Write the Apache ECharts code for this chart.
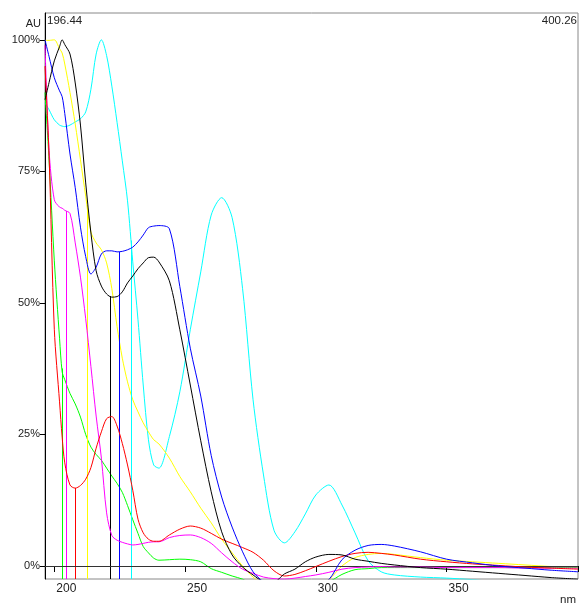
<!DOCTYPE html>
<html><head><meta charset="utf-8">
<script src="https://cdn.jsdelivr.net/npm/echarts@6/dist/echarts.min.js"></script>
<style>html,body{margin:0;padding:0;background:#fff}#c{width:579px;height:606px}</style>
</head><body><div id="c"></div>
<script>
// Wavelength grid (nm)
const wavelengths = [196.44,198,200,202,203,204,206,208,210,212,214,216,218,220,222,224,226,228,230,232,234,236,238,240,244,248,252,256,260,264,268,272,276,280,284,288,292,296,300,305,310,315,320,325,330,340,350,360,370,380,390,400.26];
// Normalised absorbance (%) per spectrum
const cyanSpec = [88.0,86.7,84.8,83.8,83.6,83.5,83.8,84.4,85.0,86.3,90.6,97.3,100,97.0,91.2,84.3,77.0,69.4,57.8,46.8,34.4,24.0,19.2,18.6,24.6,33.1,44.9,55.9,66.7,70.0,66.2,52.7,31.6,17.3,6.8,4.4,6.5,9.9,13.5,15.4,11.6,6.3,1.0,-1.1,-1.7,-2.1,-2.3,-2.6,-3,-3,-3,-3];
const yellowSpec = [99.9,99.9,100,98.3,97.5,95.4,90.0,84.0,77.2,70.3,63.5,61.4,60.1,57.6,52.7,45.5,39.5,35.0,31.6,29.3,27.2,25.5,24.0,23.2,20.5,17.0,14.1,11.0,8.2,5.1,2.5,0.0,-2.1,-3.5,-4,-4,-4,-4,-4,-2.6,0.0,1.6,2.2,2.4,2.2,1.6,1.1,0.8,0.5,0.2,-0.1,-0.3];
const greenSpec = [90,77,58,43.3,36.9,35.4,32.8,30.8,28.3,25.0,22.6,21.2,20.1,18.6,17.1,15.7,14.0,11.5,8.8,6.2,3.7,2.5,1.5,1.1,1.2,1.3,1.2,0.8,-0.5,-1.2,-1.9,-2.5,-3.5,-3.5,-3.5,-3.5,-3.5,-3.5,-3.5,-3.0,-1.6,-0.7,-0.5,-0.3,-0.3,-0.3,-0.3,-0.3,-0.3,-0.3,-0.3,-0.3];
const magentaSpec = [99,79,69.6,68.2,68.0,67.6,67.0,61.4,54.9,47.0,37.9,28.5,20.5,10.1,5.8,4.9,4.5,4.2,4.0,4.1,4.3,4.5,4.6,4.6,5.4,5.8,5.9,5.4,4.3,2.5,0.8,-0.6,-1.4,-2.1,-2.4,-2.5,-2.3,-2.0,-1.7,-1.2,-0.6,-0.3,-0.2,-0.1,-0.2,-0.2,-0.3,-0.3,-0.3,-0.4,-0.4,-0.4];
const redSpec = [95,78,45,31.2,24.5,19.6,15.4,14.8,15.3,16.5,18.7,22.4,25.5,28.0,28.4,26.6,23.3,19.2,14.4,8.9,6.3,5.1,4.7,4.7,5.9,7.0,7.6,7.2,6.2,5.1,4.3,3.5,2.6,1.1,-0.9,-1.9,-1.6,-0.9,-0.1,0.9,1.8,2.4,2.6,2.4,2.1,1.3,0.8,0.4,0.1,-0.2,-0.4,-0.6];
const blueSpec = [100,96.8,92.8,90.3,89.2,86.0,78.3,71.9,64.4,58.8,55.5,56.8,59.3,59.9,59.9,59.7,59.8,60.1,60.6,61.6,62.9,64.3,64.6,64.7,64.1,53.1,41.4,32.3,21.0,13.1,7.4,2.7,-1.1,-3,-4,-4,-4,-4,-4,-2.6,1.2,3.0,3.9,4.1,3.8,2.7,1.3,0.6,0.0,-0.4,-0.8,-1.1];
const blackSpec = [88.6,91.9,96.0,98.7,100,99.1,97.3,91.8,83.8,72.8,63.3,56.1,53.2,51.7,51.1,51.2,52.1,53.8,55.1,56.5,57.6,58.6,58.7,57.8,54.2,44.9,34.4,23.8,14.1,6.5,2.1,-0.2,-1.7,-2.9,-3.0,-1.5,-0.6,0.8,1.7,2.2,2.1,1.3,0.9,0.5,0.2,-0.3,-0.6,-1.0,-1.4,-1.8,-2.2,-2.5];
// Peak marker wavelengths (nm)
const peakWavelengths = {green:202.9, magenta:204.5, red:207.9, yellow:212.5, black:221.3, blue:224.7, cyan:229.3};
// Axes
const xMin = 196.44, xMax = 400.26;
const yMin = -2.47, yMax = 105.1;
const xTickLabels = [200,250,300,350];
const yTickLabels = [0,25,50,75,100];

const spectra = [
  {name:'cyan', color:'#00ffff', data:cyanSpec},
  {name:'yellow', color:'#ffff00', data:yellowSpec},
  {name:'green', color:'#00ff00', data:greenSpec},
  {name:'magenta', color:'#ff00ff', data:magentaSpec},
  {name:'red', color:'#ff0000', data:redSpec},
  {name:'blue', color:'#0000ff', data:blueSpec},
  {name:'black', color:'#000000', data:blackSpec}
];
function interp(arr, x){
  for(let i=0;i<wavelengths.length-1;i++){
    if(x>=wavelengths[i] && x<=wavelengths[i+1]){
      const t=(x-wavelengths[i])/(wavelengths[i+1]-wavelengths[i]);
      return arr[i]+t*(arr[i+1]-arr[i]);
    }
  }
  return arr[arr.length-1];
}
const font = 'Liberation Sans, Arial, Helvetica, sans-serif';
const series = spectra.map((s,idx)=>{
  const pk = peakWavelengths[s.name];
  return {
    type:'line', name:s.name, symbol:'none', clip:true, animation:false, silent:true,
    smooth:0.3,
    data: wavelengths.map((w,i)=>[w, s.data[i]]),
    lineStyle:{color:s.color, width:1},
    z: 2+idx,
    markLine:{
      silent:true, symbol:['none','none'], animation:false,
      label:{show:false},
      data:[[{coord:[pk, yMin], lineStyle:{color:s.color, width:1, type:'solid'}}, {coord:[pk, interp(s.data, pk)]}]]
    }
  };
});
// zero baseline
series.push({type:'line', symbol:'none', data:[], silent:true, animation:false,
  markLine:{silent:true, symbol:['none','none'], animation:false, label:{show:false},
    lineStyle:{color:'#333', width:1, type:'solid'}, data:[{yAxis:0}]}});

const chart = echarts.init(document.getElementById('c'), null, {renderer:'canvas'});
chart.setOption({
  animation:false,
  backgroundColor:'#fff',
  grid:{left:45, right:1, top:13, bottom:27, show:true, borderColor:'#888', borderWidth:1, containLabel:false, outerBoundsMode:'none'},
  xAxis:{
    type:'value', min:xMin, max:xMax,
    axisLine:{show:true, lineStyle:{color:'#000', width:1}},
    axisTick:{show:true, length:6, lineStyle:{color:'#000'}, customValues:[xMin].concat(xTickLabels,[xMax])},
    axisLabel:{show:true, customValues:xTickLabels, color:'#222', fontFamily:font, fontSize:12, align:'left', margin:4, padding:[0,0,0,2]},
    splitLine:{show:false}
  },
  yAxis:{
    type:'value', min:yMin, max:yMax,
    axisLine:{show:true, lineStyle:{color:'#000', width:1}},
    axisTick:{show:true, length:5, lineStyle:{color:'#000'}, customValues:yTickLabels},
    axisLabel:{show:true, customValues:yTickLabels, formatter:v=>v+'%', color:'#222', fontFamily:font, fontSize:11, margin:5},
    splitLine:{show:false}
  },
  graphic:[
    {type:'text', x:41, y:24, style:{text:'AU', fill:'#222', font:'11px '+font, align:'right', verticalAlign:'middle'}},
    {type:'text', x:47, y:21, style:{text:xMin.toFixed(2), fill:'#222', font:'11.5px '+font, align:'left', verticalAlign:'middle'}},
    {type:'text', x:577, y:21, style:{text:xMax.toFixed(2), fill:'#222', font:'11.5px '+font, align:'right', verticalAlign:'middle'}},
    {type:'text', x:576, y:600, style:{text:'nm', fill:'#222', font:'11.5px '+font, align:'right', verticalAlign:'middle'}}
  ],
  series:series
});
</script></body></html>
